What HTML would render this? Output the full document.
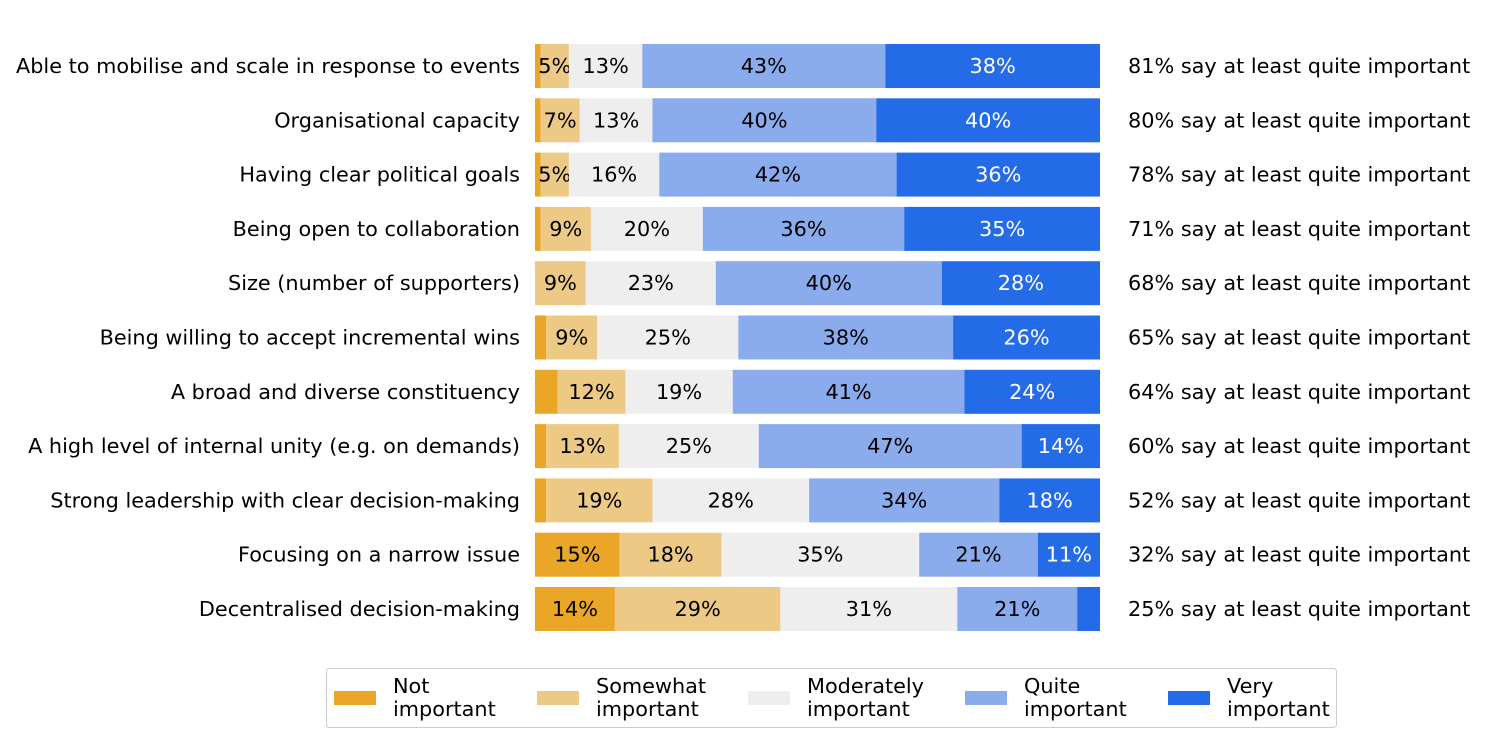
<!DOCTYPE html>
<html><head><meta charset="utf-8"><style>
body{margin:0;background:#fff;}
svg{display:block;font-family:"DejaVu Sans","Liberation Sans",sans-serif;}
</style></head><body>
<svg id="chart" width="1486" height="743"></svg>
<script>
const categories=["Able to mobilise and scale in response to events","Organisational capacity","Having clear political goals","Being open to collaboration","Size (number of supporters)","Being willing to accept incremental wins","A broad and diverse constituency","A high level of internal unity (e.g. on demands)","Strong leadership with clear decision-making","Focusing on a narrow issue","Decentralised decision-making"];
const notImportant=[1,1,1,1,0,2,4,2,2,15,14];
const somewhatImportant=[5,7,5,9,9,9,12,13,19,18,29];
const moderatelyImportant=[13,13,16,20,23,25,19,25,28,35,31];
const quiteImportant=[43,40,42,36,40,38,41,47,34,21,21];
const veryImportant=[38,40,36,35,28,26,24,14,18,11,4];
const summaryValues=[81,80,78,71,68,65,64,60,52,32,25];
const seriesNames=["Not important","Somewhat important","Moderately important","Quite important","Very important"];
const seriesKeys=["not-important","somewhat-important","moderately-important","quite-important","very-important"];
const colors=["#eaa627","#ecca86","#eeeeee","#8aabec","#246be8"];
const series=[notImportant,somewhatImportant,moderatelyImportant,quiteImportant,veryImportant];
const NS="http://www.w3.org/2000/svg";
const svg=document.getElementById('chart');
const x0=535,x1=1100,rowTop=44,rowStep=54.3,barH=44,fs='20.8';
function xScale(frac){return x0+frac*(x1-x0);}
function yCenter(i){return rowTop+barH/2+i*rowStep;}
function mk(tag,attrs){const e=document.createElementNS(NS,tag);for(const k in attrs)e.setAttribute(k,attrs[k]);svg.appendChild(e);return e;}
categories.forEach((cat,i)=>{
  const total=series.reduce((s,a)=>s+a[i],0);
  let cum=0;
  const yc=yCenter(i);
  const lab=mk('text',{x:520,y:yc+7,'text-anchor':'end','font-size':fs});
  lab.textContent=cat;
  
  
  series.forEach((arr,s)=>{
    const v=arr[i];
    const xa=xScale(cum/total),xb=xScale((cum+v)/total);
    cum+=v;
    if(v<=0)return;
    const r=mk('rect',{x:xa,y:yc-barH/2,width:xb-xa,height:barH,fill:colors[s]});
    
    
    if(v>=5){
      const t=mk('text',{x:(xa+xb)/2,y:yc+7,'text-anchor':'middle','font-size':fs,fill:s===4?'#fff':'#000'});
      t.textContent=v+'%';
      
      
    }
  });
  const rt=mk('text',{x:1128,y:yc+7,'font-size':fs});
  rt.textContent=summaryValues[i]+'% say at least quite important';
  
  
});
const lg=mk('rect',{x:326.5,y:668.5,width:1010,height:59,rx:3,fill:'#fff',stroke:'#ccc'});


const lx=[334,537,748,965,1168];
seriesNames.forEach((n,s)=>{
  const sw=mk('rect',{x:lx[s],y:691,width:42,height:14,fill:colors[s]});
  
  
  const parts=n.split(' ');
  const t=mk('text',{x:lx[s]+59,y:693,'font-size':fs});
  
  
  const a=document.createElementNS(NS,'tspan');a.setAttribute('x',lx[s]+59);a.textContent=parts[0];t.appendChild(a);
  const b=document.createElementNS(NS,'tspan');b.setAttribute('x',lx[s]+59);b.setAttribute('dy','23');b.textContent=parts[1];t.appendChild(b);
});
</script>
</body></html>
